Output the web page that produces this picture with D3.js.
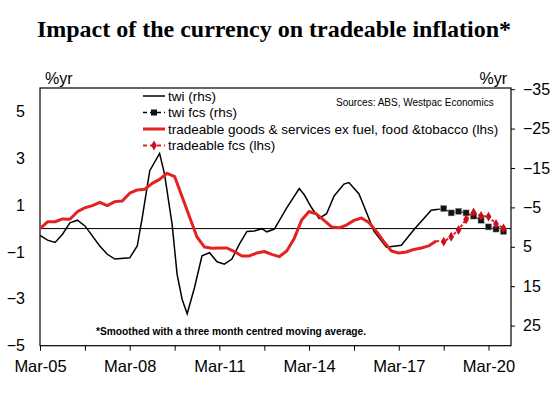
<!DOCTYPE html>
<html><head><meta charset="utf-8">
<script src="https://cdn.jsdelivr.net/npm/d3@7"></script>
<style>body{margin:0;background:#fff} svg{display:block}</style>
</head><body>
<svg id="c" width="553" height="396"></svg>
<script>
// ---------- DATA ----------
const titleText = "Impact of the currency on tradeable inflation*";
// tradeable goods & services ex fuel, food & tobacco (lhs), quarterly from Mar-05
const tradeableStart = "2005-03";
const tradeableValues = [0.0, 0.29, 0.29, 0.41, 0.40, 0.72, 0.89, 0.98, 1.12, 0.98, 1.15, 1.18,
  1.51, 1.65, 1.68, 1.93, 2.10, 2.36, 2.22, 1.36, 0.50, -0.36, -0.79, -0.84, -0.83, -0.83,
  -0.98, -1.17, -1.17, -1.04, -0.98, -1.10, -1.20, -0.96, -0.42, 0.37, 0.73, 0.62, 0.35,
  0.07, 0.03, 0.15, 0.35, 0.45, 0.26, -0.12, -0.57, -0.96, -1.04, -1.00, -0.89, -0.83, -0.74, -0.53];
// tradeable fcs (lhs), quarterly from Sep-18
const tradeableFcsStart = "2018-09";
const tradeableFcsValues = [-0.56, -0.35, -0.06, 0.39, 0.69, 0.54, 0.51, 0.20, 0.01];
// twi (rhs, inverted)
const twiMonths = ["2005-03","2005-06","2005-09","2005-12","2006-03","2006-06","2006-09","2006-11",
  "2007-03","2007-06","2007-09","2008-03","2008-06","2008-08","2008-11","2009-03","2009-05",
  "2009-08","2009-10","2009-12","2010-02","2010-05","2010-08","2010-11","2011-02","2011-05",
  "2011-08","2011-11","2012-02","2012-05","2012-08","2012-10","2013-01","2013-06","2013-11",
  "2014-01","2014-04","2014-07","2014-10","2015-01","2015-05","2015-07","2015-11","2016-02",
  "2016-05","2016-10","2017-04","2017-09","2018-01","2018-04","2018-07"];
const twiValues = [2.1, 3.3, 3.9, 1.8, -1.1, -1.75, -0.3, 1.4,
  4.8, 6.9, 8.1, 7.8, 4.8, -2.4, -14.3, -18.7, -13.4,
  -0.7, 12.0, 18.3, 22.0, 15.4, 7.3, 6.5, 8.8, 9.4,
  8.1, 4.3, 1.1, 1.0, 0.4, 1.2, 0.5, -4.9, -9.8,
  -8.2, -4.9, -2.2, -3.4, -7.9, -10.9, -11.3, -8.4, -3.7,
  1.0, 5.1, 4.6, 0.7, -2.2, -4.3, -4.5];
// twi fcs (rhs), quarterly from Sep-18
const twiFcsStart = "2018-09";
const twiFcsValues = [-4.7, -3.6, -4.0, -3.6, -2.8, -1.75, -0.05, 0.5, 1.1];

const lhsTicks = [-5, -3, -1, 1, 3, 5];
const rhsTicks = [-35, -25, -15, -5, 5, 15, 25];
const xTickLabels = ["Mar-05", "Mar-08", "Mar-11", "Mar-14", "Mar-17", "Mar-20"];
const legendLabels = ["twi (rhs)", "twi fcs (rhs)",
  "tradeable goods & services ex fuel, food &tobacco (lhs)", "tradeable fcs (lhs)"];
const sourceText = "Sources: ABS, Westpac Economics";
const footnoteText = "*Smoothed with a three month centred moving average.";

// ---------- SETUP ----------
const RED = "#e32322", RED_DARK = "#c8101a";
const parse = d3.timeParse("%Y-%m");
const svg = d3.select("#c");
const L = 40, R = 511, T = 88, B = 345.7;
const x = d3.scaleTime().domain([new Date(2005, 2, 1), new Date(2020, 11, 1)]).range([L, R]);
const yL = d3.scaleLinear().domain([-5, 6]).range([B, T]);
const yR = d3.scaleLinear().domain([-35.3, 30.1]).range([T, B]);

const quarterly = (start, vals) => vals.map((v, i) => ({date: d3.timeMonth.offset(parse(start), 3 * i), v}));
const trad = quarterly(tradeableStart, tradeableValues);
const tradF = quarterly(tradeableFcsStart, tradeableFcsValues);
const twi = twiMonths.map((m, i) => ({date: parse(m), v: twiValues[i]}));
const twiF = quarterly(twiFcsStart, twiFcsValues);

const font = "'Liberation Sans', Arial, sans-serif";

// title
svg.append("text").attr("x", 274).attr("y", 37).attr("text-anchor", "middle")
  .style("font-family", "'Liberation Serif', 'Times New Roman', serif").style("font-weight", "bold")
  .style("font-size", "24px").text(titleText);

// %yr labels
svg.append("text").attr("x", 45).attr("y", 84).style("font-family", font).style("font-size", "16px").text("%yr");
svg.append("text").attr("x", 507).attr("y", 84).attr("text-anchor", "end").style("font-family", font).style("font-size", "16px").text("%yr");

// axes
const gL = svg.append("g").attr("transform", `translate(${L},0)`)
  .call(d3.axisLeft(yL).tickValues(lhsTicks).tickSize(0).tickPadding(15));
const gR = svg.append("g").attr("transform", `translate(${R},0)`)
  .call(d3.axisRight(yR).tickValues(rhsTicks).tickSize(4).tickPadding(8));
const xTicks = d3.range(11).map(i => d3.timeMonth.offset(new Date(2005, 2, 1), 18 * i));
const gB = svg.append("g").attr("transform", `translate(0,${B})`)
  .call(d3.axisBottom(x).tickValues(xTicks).tickSize(5).tickPadding(10)
    .tickFormat((d, i) => i % 2 === 0 ? xTickLabels[i / 2] : ""));
[gL, gR, gB].forEach(g => {
  g.select(".domain").remove();
  g.selectAll("text").style("font-family", font).style("font-size", "16px").attr("fill", "#000");
  g.selectAll("line").attr("stroke", "#000");
});
gB.selectAll("text").style("font-size", "16.5px");

// frame
svg.append("rect").attr("x", L).attr("y", T).attr("width", R - L).attr("height", B - T)
  .attr("fill", "none").attr("stroke", "#000").attr("stroke-width", 1.2);
// zero line
svg.append("line").attr("x1", L).attr("x2", R).attr("y1", yL(0)).attr("y2", yL(0))
  .attr("stroke", "#000").attr("stroke-width", 1);

const lineL = d3.line().x(d => x(d.date)).y(d => yL(d.v));
const lineR = d3.line().x(d => x(d.date)).y(d => yR(d.v));

// twi actual
svg.append("path").datum(twi).attr("d", lineR).attr("fill", "none").attr("stroke", "#000").attr("stroke-width", 1.5);
// twi fcs
svg.append("path").datum([twi[twi.length - 1], ...twiF]).attr("d", lineR).attr("fill", "none")
  .attr("stroke", "#000").attr("stroke-width", 1.2).attr("stroke-dasharray", "2,2");
svg.selectAll(".sq").data(twiF).join("rect").attr("class", "sq")
  .attr("x", d => x(d.date) - 3).attr("y", d => yR(d.v) - 3).attr("width", 6).attr("height", 6)
  .attr("fill", "#111").attr("stroke", "#888").attr("stroke-width", 0.5);

// tradeable actual
svg.append("path").datum(trad).attr("d", lineL).attr("fill", "none").attr("stroke", RED)
  .attr("stroke-width", 3).attr("stroke-linejoin", "round");
// tradeable fcs
svg.append("path").datum([trad[trad.length - 1], ...tradF]).attr("d", lineL).attr("fill", "none")
  .attr("stroke", RED).attr("stroke-width", 2).attr("stroke-dasharray", "3,2");
svg.selectAll(".dm").data(tradF).join("path").attr("class", "dm")
  .attr("transform", d => `translate(${x(d.date)},${yL(d.v)})`)
  .attr("d", d3.symbol(d3.symbolDiamond, 28)).attr("fill", RED_DARK);

// legend
const lg = svg.append("g");
legendLabels.forEach((lab, i) => {
  const yy = 96 + 16.5 * i;
  const g = lg.append("g");
  if (i === 0) g.append("line").attr("x1", 143).attr("x2", 165).attr("y1", yy).attr("y2", yy).attr("stroke", "#000").attr("stroke-width", 1.5);
  if (i === 1) {
    g.append("line").attr("x1", 143).attr("x2", 165).attr("y1", yy).attr("y2", yy).attr("stroke", "#000").attr("stroke-width", 1.5).attr("stroke-dasharray", "4,3");
    g.append("rect").attr("x", 151).attr("y", yy - 3).attr("width", 6).attr("height", 6).attr("fill", "#111");
  }
  if (i === 2) g.append("line").attr("x1", 143).attr("x2", 165).attr("y1", yy).attr("y2", yy).attr("stroke", RED).attr("stroke-width", 3);
  if (i === 3) {
    g.append("line").attr("x1", 143).attr("x2", 165).attr("y1", yy).attr("y2", yy).attr("stroke", RED).attr("stroke-width", 2).attr("stroke-dasharray", "4,3");
    g.append("path").attr("transform", `translate(154,${yy})`).attr("d", d3.symbol(d3.symbolDiamond, 28)).attr("fill", RED_DARK);
  }
  g.append("text").attr("x", 168).attr("y", yy + 4.8).style("font-family", font).style("font-size", "13.5px").text(lab);
});

// sources
svg.append("text").attr("x", 336).attr("y", 105.5).style("font-family", font).style("font-size", "10px").text(sourceText);
// footnote
svg.append("text").attr("x", 96).attr("y", 335).style("font-family", font).style("font-size", "10.2px")
  .style("font-weight", "bold").text(footnoteText);
</script>
</body></html>
